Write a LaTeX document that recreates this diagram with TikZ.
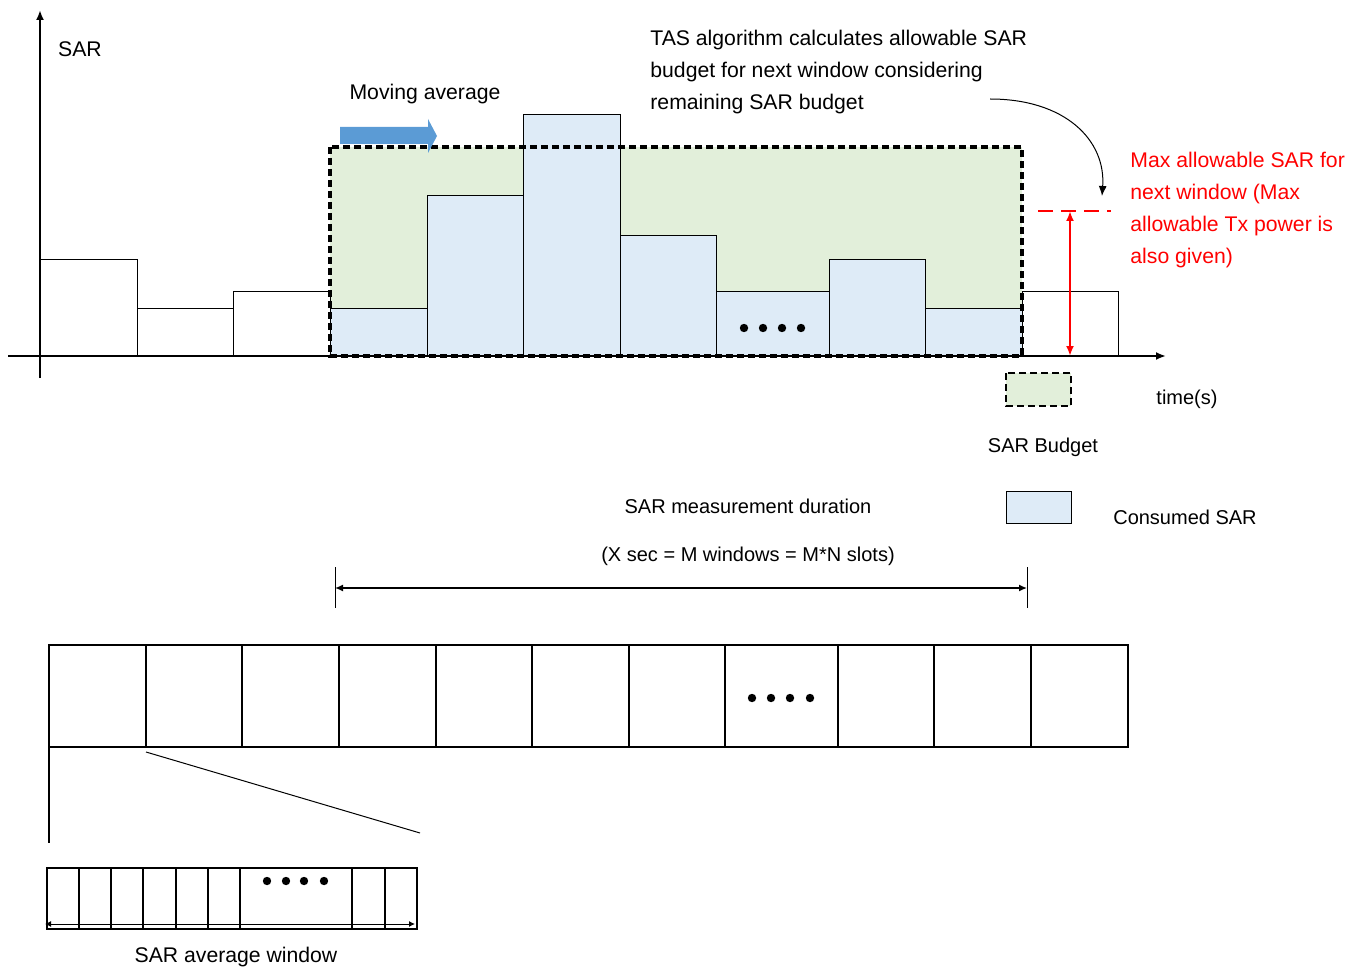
\documentclass[tikz,border=0pt]{standalone}
\usepackage{fontspec}
\setmainfont{Liberation Sans}
\usepackage{xcolor}
\usepackage{tikz}
\usetikzlibrary{arrows.meta, positioning}

\definecolor{budgetgreen}{HTML}{E2EFDA}
\definecolor{consumedblue}{HTML}{DEEBF7}
\definecolor{movingblue}{HTML}{5B9BD5}

\begin{document}
\begin{tikzpicture}[
    x=0.5pt, y=-0.5pt,
    font=\fontsize{10.6}{16}\selectfont,
    axis/.style={line width=1pt, -{Latex[length=5pt, width=4pt]}},
    bar/.style={draw=black, line width=0.5pt},
    usedbar/.style={bar, fill=consumedblue},
    budget/.style={draw=black, line width=1.6pt, dash pattern=on 3.5pt off 2pt},
    cell/.style={draw=black, line width=1pt},
    label/.style={inner sep=0pt},
    small/.style={label, font=\fontsize{10}{12}\selectfont},
    dots/.style={fill=black},
    arrow/.style={->, >={Latex[length=5pt, width=4pt]}}
]
\useasboundingbox (0,0) rectangle (1360,968);

% ===== Axes =====
\coordinate (origin) at (40,356);
\coordinate (yend) at (40,10);
\coordinate (ystart) at (40,378);
\coordinate (xstart) at (8,356);
\coordinate (xend) at (1166,356);
\draw[axis] (ystart) -- (yend);

\node[label] (sar) at (80,49) {SAR};

% ===== Budget window =====
\fill[budgetgreen] (330,147) rectangle (1022,356);

% ===== Bars =====
\draw[bar] (40,356) rectangle (137,260);
\draw[bar] (137,356) rectangle (233,309);
\draw[bar] (233,356) rectangle (330,292);
\draw[usedbar] (330,356) rectangle (427,309);
\draw[usedbar] (427,356) rectangle (523,196);
\draw[usedbar] (523,356) rectangle (620,115);
\draw[usedbar] (620,356) rectangle (716,236);
\draw[usedbar] (716,356) rectangle (829,292);
\draw[usedbar] (829,356) rectangle (925,260);
\draw[usedbar] (925,356) rectangle (1022,309);
\draw[bar] (1022,356) rectangle (1118,292);
\foreach \x in {744,763,782,801}
    \fill[dots] (\x,328) circle[radius=2.1pt];

\draw[budget] (330,147) rectangle (1022,356);
\draw[axis] (xstart) -- (xend);

% ===== Moving average =====
\node[label] (moving) at (425,94) {Moving average};
\fill[movingblue] (340,127) -- (428,127) -- (428,119) -- (437,136)
    -- (428,153) -- (428,144) -- (340,144) -- cycle;

% ===== TAS note =====
\node[label, anchor=west, align=left] (tas) at (650,72)
    {TAS algorithm calculates allowable SAR\\budget for next window considering\\remaining SAR budget};
\coordinate (tasfrom) at (990,99);
\coordinate (tasto) at (1102,196);
\draw[arrow, line width=0.5pt] (tasfrom) .. controls (1065,99) and (1106,140) .. (tasto);

% ===== Max allowable SAR =====
\coordinate (maxL) at (1038,211);
\coordinate (maxR) at (1111,211);
\coordinate (maxtop) at (1070,211);
\coordinate (maxbot) at (1070,356);
\draw[red, line width=1pt, dash pattern=on 7.5pt off 4pt] (maxL) -- (maxR);
\draw[red, line width=1pt, {Latex[length=5pt, width=4pt]}-{Latex[length=5pt, width=4pt]}] (maxtop) -- (maxbot);
\node[label, anchor=west, align=left, text=red] (maxnote) at (1130,210)
    {Max allowable SAR for\\next window (Max\\allowable Tx power is\\also given)};

% ===== Legend =====
\node[small] (time) at (1187,399) {time(s)};
\draw[budget, fill=budgetgreen, line width=1.3pt] (1006,373) rectangle (1071,406);
\node[small] (budgetkey) at (1043,447) {SAR Budget};
\draw[usedbar] (1006,491) rectangle (1071,523);
\node[small] (usedkey) at (1185,517) {Consumed SAR};

% ===== Measurement duration =====
\node[small] (duration) at (748,506) {SAR measurement duration};
\node[small] (durvalue) at (748,556) {(X sec = M windows = M*N slots)};
\coordinate (durL) at (335,588);
\coordinate (durR) at (1027,588);
\draw[line width=0.5pt] (335,567) -- (335,608);
\draw[line width=0.5pt] (1027,567) -- (1027,608);
\draw[line width=0.7pt, {Latex[length=4pt, width=3.5pt]}-{Latex[length=4pt, width=3.5pt]}] (durL) -- (durR);

% ===== Windows =====
\draw[cell] (49,645) rectangle (1128,747);
\foreach \x in {146,242,339,436,532,629,725,838,934,1031}
    \draw[cell] (\x,645) -- (\x,747);
\foreach \x in {752,771,790,810}
    \fill[dots] (\x,698) circle[radius=2.1pt];

% ===== Zoom into one window =====
\draw[cell] (49,747) -- (49,843);
\draw[line width=0.5pt] (146,752) -- (420,833);

\draw[cell] (47,868) rectangle (417,929);
\foreach \x in {79,111,143,176,208,240,352,385}
    \draw[cell] (\x,868) -- (\x,929);
\foreach \x in {267,286,304,324}
    \fill[dots] (\x,881) circle[radius=2.1pt];
\coordinate (winL) at (45,924);
\coordinate (winR) at (415,924);
\draw[line width=0.5pt, {Latex[length=3pt, width=3pt]}-{Latex[length=3pt, width=3pt]}] (winL) -- (winR);
\node[label] (avgwin) at (236,957) {SAR average window};

\end{tikzpicture}
\end{document}
